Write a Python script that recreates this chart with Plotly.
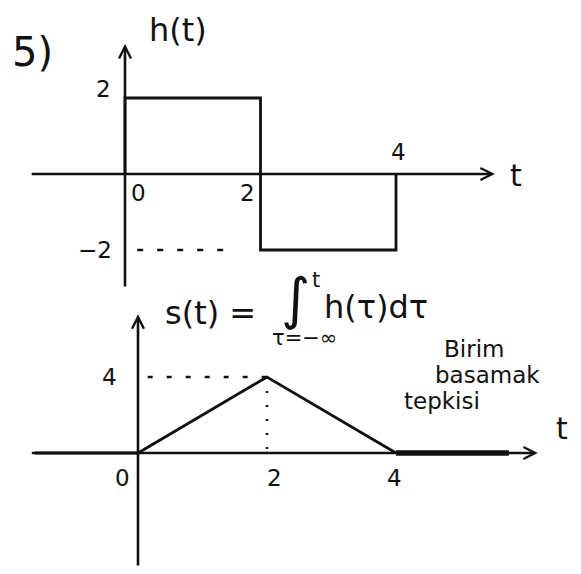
import plotly.graph_objects as go

# ---- data ----
h_t = [0, 0, 2, 2, 4, 4]
h_v = [0, 2, 2, -2, -2, 0]
h_ticks_x = [0, 2, 4]
h_ticks_y = [2, -2]

s_t = [-1.6, 0, 2, 4]
s_v = [0, 0, 4, 0]
s_tail_t = [4, 5.75]
s_tail_v = [0, 0]
s_ticks_x = [0, 2, 4]
s_peak_t = 2
s_peak_v = 4

W, H = 581, 574
FONT = "DejaVu Sans"
INK = "#111111"

fig = go.Figure()

# top subplot: h(t)
fig.add_trace(go.Scatter(x=h_t, y=h_v, mode="lines", line=dict(color=INK, width=2.8),
                         xaxis="x", yaxis="y", hoverinfo="skip", showlegend=False))
fig.add_trace(go.Scatter(x=[0.18, 1.45], y=[h_ticks_y[1]] * 2, mode="lines",
                         line=dict(color=INK, width=2.4, dash="6px,14px"),
                         xaxis="x", yaxis="y", hoverinfo="skip", showlegend=False))

# bottom subplot: s(t)
fig.add_trace(go.Scatter(x=s_t, y=s_v, mode="lines", line=dict(color=INK, width=2.8),
                         xaxis="x2", yaxis="y2", hoverinfo="skip", showlegend=False))
fig.add_trace(go.Scatter(x=s_tail_t, y=s_tail_v, mode="lines", line=dict(color=INK, width=5.5),
                         xaxis="x2", yaxis="y2", hoverinfo="skip", showlegend=False))
fig.add_trace(go.Scatter(x=[0.15, s_peak_t], y=[s_peak_v] * 2, mode="lines",
                         line=dict(color=INK, width=2.4, dash="5px,14px"),
                         xaxis="x2", yaxis="y2", hoverinfo="skip", showlegend=False))
fig.add_trace(go.Scatter(x=[s_peak_t, s_peak_t], y=[s_peak_v, 0], mode="lines",
                         line=dict(color=INK, width=2.6, dash="2px,12px"),
                         xaxis="x2", yaxis="y2", hoverinfo="skip", showlegend=False))

ann = []

def arrow(x0, y0, x1, y1, xr, yr):
    ann.append(dict(x=x1, y=y1, ax=x0, ay=y0, xref=xr, yref=yr, axref=xr, ayref=yr,
                    text="", showarrow=True, arrowhead=5, arrowsize=0.9, arrowwidth=2.6,
                    arrowcolor=INK, standoff=0, startstandoff=0))

def lab(text, x, y, xr, yr, size=23, dx=0, dy=0):
    ann.append(dict(x=x, y=y, xref=xr, yref=yr, text=text, showarrow=False,
                    xshift=dx, yshift=dy, font=dict(family=FONT, size=size, color=INK),
                    xanchor="center", yanchor="middle"))

# axes of top plot
arrow(-1.40, 0, 5.46, 0, "x", "y")
arrow(0, -3.0, 0, 3.42, "x", "y")
# axes of bottom plot
arrow(-1.67, 0, 6.2, 0, "x2", "y2")
arrow(0, -6.0, 0, 7.3, "x2", "y2")

# top tick labels
lab("2", 0, h_ticks_y[0], "x", "y", dx=-22, dy=9)
lab("−2", 0, h_ticks_y[1], "x", "y", dx=-30)
lab("0", h_ticks_x[0], 0, "x", "y", dx=13, dy=-19)
lab("2", h_ticks_x[1], 0, "x", "y", dx=-13, dy=-19)
lab("4", h_ticks_x[2], 0, "x", "y", dx=2, dy=22)

# bottom tick labels
lab("4", 0, s_peak_v, "x2", "y2", dx=-29)
lab("0", s_ticks_x[0], 0, "x2", "y2", dx=-16, dy=-25)
lab("2", s_ticks_x[1], 0, "x2", "y2", dx=7, dy=-25)
lab("4", s_ticks_x[2], 0, "x2", "y2", dx=-2, dy=-25)

def ptxt(text, px, py, size, anchor="center"):
    ann.append(dict(x=px / W, y=1 - py / H, xref="paper", yref="paper", text=text,
                    showarrow=False, font=dict(family=FONT, size=size, color=INK),
                    xanchor=anchor, yanchor="middle"))

ptxt("5)", 32, 52, 40)
ptxt("h(t)", 178, 30, 32)
ptxt("t", 516, 175, 30)
ptxt("t", 562, 428, 30)
ptxt("s(t) =", 210, 313, 32)
ptxt("∫", 295, 298, 56)
ptxt("h(τ)dτ", 376, 307, 32)
ptxt("t", 316, 280, 21)
ptxt("τ=−∞", 304, 338, 21)
ptxt("Birim", 474, 349, 23)
ptxt("basamak", 487, 375, 23)
ptxt("tepkisi", 442, 401, 23)

# axis ranges so that plot positions match the sketch
top_split = 290 / H
fig.update_layout(
    width=W, height=H, margin=dict(l=0, r=0, t=0, b=0),
    paper_bgcolor="white", plot_bgcolor="white",
    xaxis=dict(domain=[0, 1], range=[-125 / 67.75, (W - 125) / 67.75], visible=False, fixedrange=True),
    yaxis=dict(domain=[1 - top_split, 1], range=[(174 - 290) / 38, 174 / 38], visible=False, fixedrange=True),
    xaxis2=dict(domain=[0, 1], range=[-138 / 64.5, (W - 138) / 64.5], visible=False, anchor="y2", fixedrange=True),
    yaxis2=dict(domain=[0, 1 - top_split], range=[(453 - 574) / 19, (453 - 290) / 19], visible=False, anchor="x2", fixedrange=True),
    annotations=ann, showlegend=False,
)

fig.write_html("out.html", post_script="document.body.style.margin='0px';",
               config={"displayModeBar": False})
